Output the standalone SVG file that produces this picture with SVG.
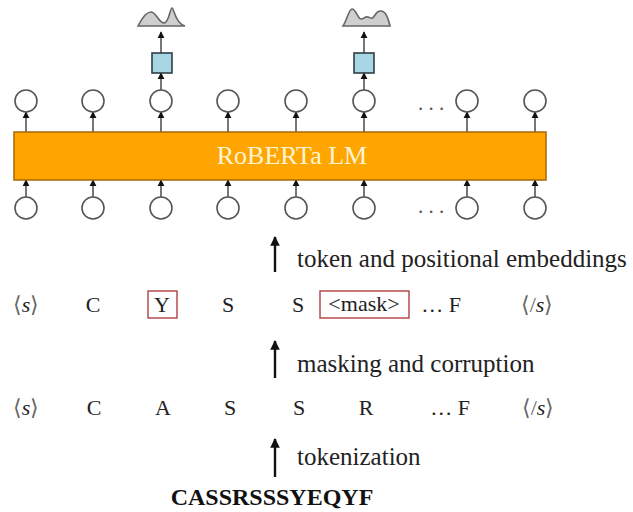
<svg xmlns="http://www.w3.org/2000/svg" width="633" height="512" viewBox="0 0 633 512">
<style>
.c{fill:#fff;stroke:#555;stroke-width:1.6}
.a{stroke:#555;stroke-width:1.6;fill:none;marker-end:url(#ah)}
.big{stroke:#111;stroke-width:2.4;fill:none;marker-end:url(#bh)}
.tok{font-family:"Liberation Serif",serif;font-size:22px;fill:#222;text-anchor:middle}
.lab{font-family:"Liberation Serif",serif;font-size:25px;fill:#222}
.sq{fill:#a9d6e5;stroke:#2f3f46;stroke-width:1.6}
.dist{fill:#cfcfcf;stroke:#666;stroke-width:1.6}
.rb{fill:none;stroke:#b04040;stroke-width:1.4}
.dots{font-family:"Liberation Serif",serif;font-size:21px;fill:#555}
</style>
<defs>
<marker id="ah" viewBox="0 0 10 10" refX="9" refY="5" markerWidth="4.5" markerHeight="4.5" orient="auto" markerUnits="strokeWidth"><path d="M0,0 L10,5 L0,10 z" fill="#111"/></marker>
<marker id="bh" viewBox="0 0 10 10" refX="9" refY="5" markerWidth="4.5" markerHeight="4" orient="auto" markerUnits="strokeWidth"><path d="M0,0 L10,5 L0,10 z" fill="#111"/></marker>
</defs>
<rect width="633" height="512" fill="#fff"/>

<g id="connectors">
<line class="a" x1="26" y1="132" x2="26" y2="112"/>
<line class="a" x1="93" y1="132" x2="93" y2="112"/>
<line class="a" x1="161" y1="132" x2="161" y2="112"/>
<line class="a" x1="228" y1="132" x2="228" y2="112"/>
<line class="a" x1="296" y1="132" x2="296" y2="112"/>
<line class="a" x1="364" y1="132" x2="364" y2="112"/>
<line class="a" x1="467" y1="132" x2="467" y2="112"/>
<line class="a" x1="535" y1="132" x2="535" y2="112"/>
<line class="a" x1="26" y1="197" x2="26" y2="180"/>
<line class="a" x1="93" y1="197" x2="93" y2="180"/>
<line class="a" x1="161" y1="197" x2="161" y2="180"/>
<line class="a" x1="228" y1="197" x2="228" y2="180"/>
<line class="a" x1="296" y1="197" x2="296" y2="180"/>
<line class="a" x1="364" y1="197" x2="364" y2="180"/>
<line class="a" x1="467" y1="197" x2="467" y2="180"/>
<line class="a" x1="535" y1="197" x2="535" y2="180"/>
<line class="a" x1="161" y1="90" x2="161" y2="73"/>
<line class="a" x1="364" y1="90" x2="364" y2="73"/>
<line class="a" x1="161" y1="53" x2="161" y2="32"/>
<line class="a" x1="364" y1="53" x2="364" y2="32"/>
<line class="big" x1="275" y1="272" x2="275" y2="237"/>
<line class="big" x1="275" y1="378" x2="275" y2="341"/>
<line class="big" x1="275" y1="477" x2="275" y2="439"/>
</g>

<g id="dist1"><path class="dist" d="M138,26 C142,18 147,12 151,12 C156,12 159,23 164,23 C169,23 170,8 172,8 C174,8 175,24 185,26 Z"/></g>
<g id="dist2"><path class="dist" d="M343,26 C347,20 349,9 352,9 C356,9 358,19 361,19 C364,19 365,16 368,17 C371,18 372,20 375,15 C378,10 382,10 385,13 C388,17 389,22 390,26 Z"/></g>
<g id="head1"><rect class="sq" x="152" y="53" width="20" height="20"/></g>
<g id="head2"><rect class="sq" x="354" y="53" width="20" height="20"/></g>

<g id="out-nodes">
<ellipse class="c" cx="26" cy="101" rx="11" ry="11"/>
<ellipse class="c" cx="93" cy="101" rx="11" ry="11"/>
<ellipse class="c" cx="161" cy="101" rx="11" ry="11"/>
<ellipse class="c" cx="228" cy="101" rx="11" ry="11"/>
<ellipse class="c" cx="296" cy="101" rx="11" ry="11"/>
<ellipse class="c" cx="364" cy="101" rx="11" ry="11"/>
<text class="dots" x="418" y="110">. . .</text>
<ellipse class="c" cx="467" cy="101" rx="11" ry="11"/>
<ellipse class="c" cx="535" cy="101" rx="11" ry="11"/>
</g>

<g id="roberta">
<rect x="14" y="132" width="532" height="48" fill="#ffa500" stroke="#a8680a" stroke-width="1.5"/>
<text x="292" y="164" font-family="Liberation Serif, serif" font-size="26" fill="#fff4d4" text-anchor="middle">RoBERTa LM</text>
</g>

<g id="in-nodes">
<ellipse class="c" cx="26" cy="208" rx="11" ry="11"/>
<ellipse class="c" cx="93" cy="208" rx="11" ry="11"/>
<ellipse class="c" cx="161" cy="208" rx="11" ry="11"/>
<ellipse class="c" cx="228" cy="208" rx="11" ry="11"/>
<ellipse class="c" cx="296" cy="208" rx="11" ry="11"/>
<ellipse class="c" cx="364" cy="208" rx="11" ry="11"/>
<text class="dots" x="418" y="213">. . .</text>
<ellipse class="c" cx="467" cy="208" rx="11" ry="11"/>
<ellipse class="c" cx="535" cy="208" rx="11" ry="11"/>
</g>

<g id="label-embed"><text class="lab" x="297" y="267">token and positional embeddings</text></g>

<g id="masked-row">
<text class="tok" x="26" y="312"><tspan fill="#666">⟨</tspan><tspan font-style="italic">s</tspan><tspan fill="#666">⟩</tspan></text>
<text class="tok" x="93" y="312">C</text>
<rect class="rb" x="148" y="291" width="29" height="27"/>
<text class="tok" x="162" y="312">Y</text>
<text class="tok" x="228" y="312">S</text>
<text class="tok" x="298" y="312">S</text>
<rect class="rb" x="320" y="291" width="89" height="27"/>
<text class="tok" x="364" y="311">&lt;mask&gt;</text>
<text class="tok" x="441" y="312">… F</text>
<text class="tok" x="537" y="312"><tspan fill="#666">⟨/</tspan><tspan font-style="italic">s</tspan><tspan fill="#666">⟩</tspan></text>
</g>

<g id="label-mask"><text class="lab" x="297" y="372">masking and corruption</text></g>

<g id="token-row">
<text class="tok" x="26" y="415"><tspan fill="#666">⟨</tspan><tspan font-style="italic">s</tspan><tspan fill="#666">⟩</tspan></text>
<text class="tok" x="94" y="415">C</text>
<text class="tok" x="163" y="415">A</text>
<text class="tok" x="230" y="415">S</text>
<text class="tok" x="299" y="415">S</text>
<text class="tok" x="366" y="415">R</text>
<text class="tok" x="450" y="415">… F</text>
<text class="tok" x="538" y="415"><tspan fill="#666">⟨/</tspan><tspan font-style="italic">s</tspan><tspan fill="#666">⟩</tspan></text>
</g>

<g id="label-tok"><text class="lab" x="297" y="465">tokenization</text></g>

<g id="sequence"><text x="272" y="505" font-family="Liberation Serif, serif" font-size="24" font-weight="bold" fill="#111" text-anchor="middle">CASSRSSSYEQYF</text></g>
</svg>
